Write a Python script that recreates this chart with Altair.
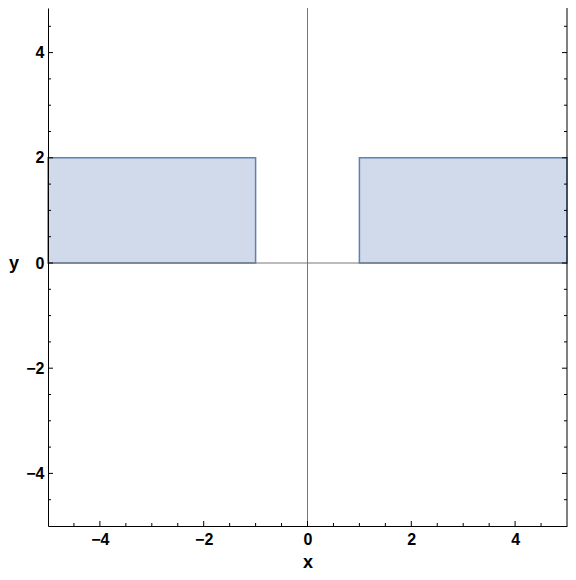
import altair as alt
import pandas as pd

# Filled regions (two rectangles)
x_start = [-5, 1]
x_end = [-1, 5]
y_low = [0, 0]
y_high = [2, 2]

# Axis ticks
major_ticks = [-4, -2, 0, 2, 4]
minor_ticks = [-4.5, -3.5, -3, -2.5, -1.5, -1, -0.5, 0.5, 1, 1.5, 2.5, 3, 3.5, 4.5]
x_domain = [-5, 5]
y_domain = [-5, 4.848]

W, H = 519, 518
FONT = "Liberation Sans"

xs = alt.Scale(domain=x_domain, nice=False, zero=False)
ys = alt.Scale(domain=y_domain, nice=False, zero=False)

rects = pd.DataFrame({"x": x_start, "x2": x_end, "y": y_low, "y2": y_high})

region = alt.Chart(rects).mark_rect(
    fill="#D0DAEA", stroke="#5E81B5", strokeWidth=1.5
).encode(
    x=alt.X("x:Q", scale=xs, title="x",
            axis=alt.Axis(values=major_ticks, ticks=False, grid=False, zindex=1,
                          domainColor="black", domainWidth=1, labelPadding=5,
                          labelFont=FONT, labelFontSize=16, labelFontWeight="bold",
                          labelColor="black", titleFont=FONT, titleFontSize=18,
                          titleFontWeight="bold", titleColor="black",
                          titleBaseline="alphabetic", titleY=41)),
    x2="x2:Q",
    y=alt.Y("y:Q", scale=ys, title="y",
            axis=alt.Axis(values=major_ticks, ticks=False, grid=False, zindex=1,
                          domainColor="black", domainWidth=1, labelPadding=4,
                          labelFont=FONT, labelFontSize=16, labelFontWeight="bold",
                          labelColor="black", titleFont=FONT, titleFontSize=18,
                          titleFontWeight="bold", titleColor="black",
                          titleAngle=0, titleAlign="center", titleBaseline="middle",
                          titleX=-34.5, titleY=255)),
    y2="y2:Q",
)

# origin axes
x_zero = alt.Chart(pd.DataFrame({"x": [0]})).mark_rule(color="#777777", strokeWidth=1).encode(
    x=alt.X("x:Q", scale=xs, title="x"), y=alt.value(0), y2=alt.value(H))
y_zero = alt.Chart(pd.DataFrame({"y": [0]})).mark_rule(color="#777777", strokeWidth=1).encode(
    y=alt.Y("y:Q", scale=ys, title="y"), x=alt.value(0), x2=alt.value(W))

# right frame
right_frame = alt.Chart(pd.DataFrame({"x": [x_domain[1]]})).mark_rule(color="black", strokeWidth=1).encode(
    x=alt.X("x:Q", scale=xs, title="x"), y=alt.value(0), y2=alt.value(H))


def tick_layers(vals, length):
    df_x = pd.DataFrame({"x": vals})
    df_y = pd.DataFrame({"y": vals})
    bottom = alt.Chart(df_x).mark_rule(color="black", strokeWidth=1).encode(
        x=alt.X("x:Q", scale=xs, title="x"), y=alt.value(H), y2=alt.value(H - length))
    left = alt.Chart(df_y).mark_rule(color="black", strokeWidth=1).encode(
        y=alt.Y("y:Q", scale=ys, title="y"), x=alt.value(0), x2=alt.value(length))
    right = alt.Chart(df_y).mark_rule(color="black", strokeWidth=1).encode(
        y=alt.Y("y:Q", scale=ys, title="y"), x=alt.value(W), x2=alt.value(W - length))
    return [bottom, left, right]


layers = [region, x_zero, y_zero, right_frame] + tick_layers(major_ticks, 5) + tick_layers(minor_ticks, 3)

chart = alt.layer(*layers).properties(
    width=W, height=H,
    autosize=alt.AutoSizeParams(type="none"),
    padding={"left": 40, "top": 0, "right": 1, "bottom": 44},
).configure_view(stroke=None)

chart.save("out.html", embed_options={"renderer": "svg", "actions": False})
